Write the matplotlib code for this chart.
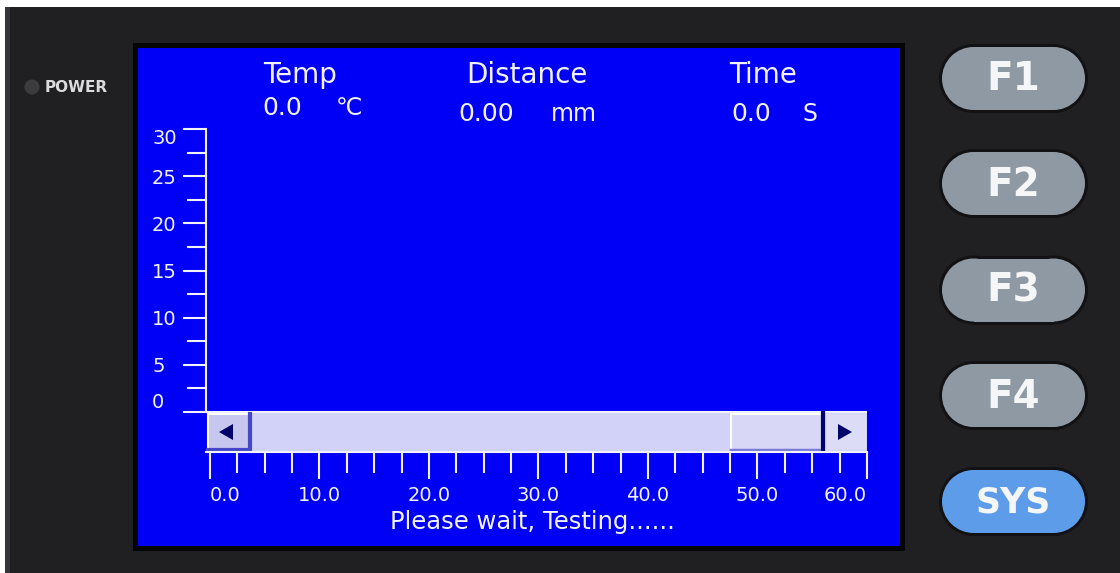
import matplotlib.pyplot as plt
from matplotlib.patches import Rectangle, Circle, Polygon
from matplotlib.ticker import FixedLocator, MultipleLocator

# ----------------------- Data -----------------------
x_major_ticks = [0, 10, 20, 30, 40, 50, 60]
x_tick_labels = ["0.0", "10.0", "20.0", "30.0", "40.0", "50.0", "60.0"]
y_major_ticks = [0, 5, 10, 15, 20, 25, 30]
y_tick_labels = ["0", "5", "10", "15", "20", "25", "30"]
minor_step = 2.5

header_names = ["Temp", "Distance", "Time"]
header_values = ["0.0", "0.00", "0.0"]
header_units = ["℃", "mm", "S"]

button_labels = ["F1", "F2", "F3", "F4", "SYS"]
status_text = "Please wait, Testing......"

# ----------------------- Styles -----------------------
BEZEL = "#202022"
SCREEN = "#0000f6"
FG = "#f2f2ff"
BTN_GREY = "#8f99a4"
BTN_BLUE = "#5c9ce8"
FAMILY = ["DejaVu Sans", "Noto Sans CJK SC"]

W, H = 1120, 573
fig = plt.figure(figsize=(W / 100, H / 100), dpi=100)
fig.patch.set_facecolor(BEZEL)

# background axes in pixel coordinates (y down)
bg = fig.add_axes([0, 0, 1, 1], zorder=0)
bg.set_xlim(0, W)
bg.set_ylim(H, 0)
bg.axis("off")


def pill(x0, y0, w, h, color):
    # rectangle with two half circles, drawn in pixel coords
    r = h / 2
    bg.add_patch(Rectangle((x0 + r, y0), w - 2 * r, h, color=color, lw=0))
    bg.add_patch(Circle((x0 + r, y0 + r), r, color=color, lw=0))
    bg.add_patch(Circle((x0 + w - r, y0 + r), r, color=color, lw=0))


# outer edges of the photo
bg.add_patch(Rectangle((0, 0), W, 7, color="white", lw=0))
bg.add_patch(Rectangle((0, 0), 5, H, color="white", lw=0))
bg.add_patch(Rectangle((5, 7), 5, H, color="#34343a", lw=0))

# power led
bg.add_patch(Circle((32, 87), 7.5, color="#3c3c3e", lw=0))
bg.text(45, 88, "POWER", color="#dcdcdc", fontsize=11, fontweight="bold",
        ha="left", va="center", family=FAMILY)

# screen
bg.add_patch(Rectangle((133, 43), 772, 508, color="#050505", lw=0))
bg.add_patch(Rectangle((138, 48), 762, 498, color=SCREEN, lw=0))

# header readouts
name_x = [300, 527, 763]
value_x = [262, 458, 731]
unit_x = [336, 551, 802]
value_y = [108, 114, 114]
for i in range(3):
    bg.text(name_x[i], 75, header_names[i], color=FG, fontsize=20,
            ha="center", va="center", family=FAMILY)
    bg.text(value_x[i], value_y[i], header_values[i], color=FG, fontsize=18,
            ha="left", va="center", family=FAMILY)
    bg.text(unit_x[i], value_y[i], header_units[i], color=FG, fontsize=17,
            ha="left", va="center", family=FAMILY)

# scrollbar
bg.add_patch(Rectangle((207, 412), 660, 40, color="#d2d2f8", lw=0))
bg.plot([206, 867], [412, 412], color=FG, lw=1.5, solid_capstyle="butt")
# left button
bg.add_patch(Rectangle((208, 414), 42, 36, color="#c6c6ee", lw=0))
bg.plot([208, 208, 249], [450, 414, 414], color="white", lw=1.5)
bg.plot([208, 250, 250], [450, 450, 414], color="#4646c8", lw=3)
bg.add_patch(Polygon([(219, 432), (233, 424), (233, 440)], color="#00006a", lw=0))
# thumb
bg.add_patch(Rectangle((730, 414), 92, 36, color="#d8d8f6", lw=0))
bg.plot([731, 731, 821], [450, 414, 414], color="white", lw=1.5)
bg.plot([731, 821], [450, 450], color="#7a7ad8", lw=2.5)
bg.plot([823, 823], [413, 451], color="#000070", lw=3)
# right button
bg.add_patch(Rectangle((826, 414), 40, 36, color="#dcdcf6", lw=0))
bg.add_patch(Polygon([(852, 432), (838, 424), (838, 440)], color="#00006a", lw=0))

# status line
bg.text(532, 522, status_text, color=FG, fontsize=17.5, ha="center",
        va="center", family=FAMILY)

# side buttons
btn_cy = [78.5, 183.5, 290, 395.5, 501.5]
bw, bh = 143, 63
for i, lab in enumerate(button_labels):
    x0 = 942
    y0 = btn_cy[i] - bh / 2
    pill(x0 - 3, y0 - 3, bw + 6, bh + 6, "#121214")
    face = BTN_BLUE if lab == "SYS" else BTN_GREY
    pill(x0, y0, bw, bh, face)
    bg.text(x0 + bw / 2, btn_cy[i] + 1, lab, color="#f4f6f8",
            fontsize=25 if lab == "SYS" else 28, fontweight="bold",
            ha="center", va="center", family=FAMILY)

# ----------------------- Chart axes -----------------------
px_left, px_right, px_top, px_bottom = 206, 867, 129, 412
ax = fig.add_axes([px_left / W, (H - px_bottom) / H,
                   (px_right - px_left) / W, (px_bottom - px_top) / H], zorder=2)
ax.patch.set_visible(False)
ax.set_xlim(-0.365, 60)
ax.set_ylim(0, 30)

for side in ["top", "right"]:
    ax.spines[side].set_visible(False)
ax.spines["left"].set_color(FG)
ax.spines["left"].set_linewidth(1.5)
ax.spines["bottom"].set_color(FG)
ax.spines["bottom"].set_linewidth(1.5)
ax.spines["bottom"].set_position(("outward", 40 * 0.72))

ax.xaxis.set_major_locator(FixedLocator(x_major_ticks))
ax.xaxis.set_minor_locator(MultipleLocator(minor_step))
ax.set_xticklabels(x_tick_labels)
ax.yaxis.set_major_locator(FixedLocator(y_major_ticks))
ax.yaxis.set_minor_locator(MultipleLocator(minor_step))
ax.set_yticklabels(y_tick_labels)

ax.tick_params(axis="x", which="major", length=27 * 0.72, width=1.5,
               color=FG, labelcolor=FG, labelsize=14, pad=5, direction="out")
ax.tick_params(axis="x", which="minor", length=21 * 0.72, width=1.5,
               color=FG, direction="out")
ax.tick_params(axis="y", which="major", length=23 * 0.72, width=1.5,
               color=FG, labelcolor=FG, labelsize=14, pad=31 * 0.72,
               direction="out")
ax.tick_params(axis="y", which="minor", length=19 * 0.72, width=1.5,
               color=FG, direction="out")

xl = ax.get_xticklabels()
xl[0].set_ha("left")
xl[-1].set_ha("right")
yl = ax.get_yticklabels()
for t in yl:
    t.set_ha("left")
yl[0].set_va("bottom")
yl[-1].set_va("top")

fig.savefig("out.png", dpi=100, facecolor=fig.get_facecolor())
